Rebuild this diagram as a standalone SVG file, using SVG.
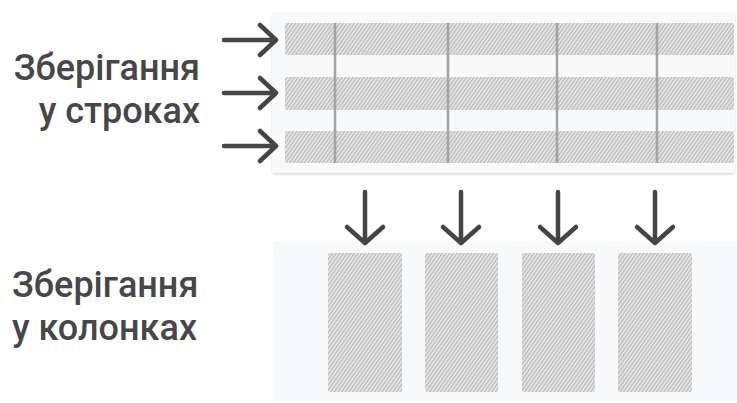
<svg xmlns="http://www.w3.org/2000/svg" width="737" height="403" viewBox="0 0 737 403">
<defs>
<pattern id="hatch" width="3" height="3" patternUnits="userSpaceOnUse" patternTransform="rotate(35)">
<rect width="3" height="3" fill="#e6e6e6"/>
<line x1="0.7" y1="0" x2="0.7" y2="3" stroke="#a6a6a6" stroke-width="0.9"/>
</pattern>
<filter id="sh" x="-5%" y="-5%" width="110%" height="115%">
<feDropShadow dx="0" dy="1.5" stdDeviation="1.2" flood-color="#000" flood-opacity="0.15"/>
</filter>
</defs>
<style>
.lbl{font-family:Roboto,"Liberation Sans",sans-serif;font-size:36px;font-weight:500;fill:#474747;}
.panel{fill:#f8f9fa;}
.cell{fill:url(#hatch);}
.sep{stroke:#a3a3a3;stroke-width:2.5;}
.arr{fill:none;stroke:#454545;stroke-width:4.5;stroke-linecap:round;stroke-linejoin:round;}
</style>
<rect width="737" height="403" fill="#ffffff"/>

<g id="label-rows">
<text class="lbl" x="200" y="80" text-anchor="end">Зберігання</text>
<text class="lbl" x="200" y="123" text-anchor="end">у строках</text>
</g>
<g id="label-cols">
<text class="lbl" x="12" y="297">Зберігання</text>
<text class="lbl" x="12" y="340">у колонках</text>
</g>

<g id="row-store">
<rect class="panel" x="272" y="12" width="463" height="161" rx="3" filter="url(#sh)"/>
<rect class="cell" x="285" y="23" width="449" height="32" rx="2"/>
<rect class="cell" x="285" y="77" width="449" height="33" rx="2"/>
<rect class="cell" x="285" y="131" width="449" height="32" rx="2"/>
<line class="sep" x1="335" y1="23" x2="335" y2="163"/>
<line class="sep" x1="448" y1="23" x2="448" y2="163"/>
<line class="sep" x1="557" y1="23" x2="557" y2="163"/>
<line class="sep" x1="657" y1="23" x2="657" y2="163"/>
</g>

<g id="col-store">
<rect class="panel" x="273" y="241" width="464" height="160"/>
<rect class="cell" x="328" y="253" width="74" height="139" rx="2"/>
<rect class="cell" x="425" y="253" width="73" height="139" rx="2"/>
<rect class="cell" x="522" y="253" width="73" height="139" rx="2"/>
<rect class="cell" x="618" y="253" width="74" height="139" rx="2"/>
</g>

<g id="connectors">
<path class="arr" d="M224 40H276M260 25L276 40L260 55"/>
<path class="arr" d="M224 93H276M260 78L276 93L260 108"/>
<path class="arr" d="M224 146H276M260 131L276 146L260 161"/>
<path class="arr" d="M365 192V243M347 227L365 243L383 227"/>
<path class="arr" d="M461 192V243M443 227L461 243L479 227"/>
<path class="arr" d="M558 192V243M540 227L558 243L576 227"/>
<path class="arr" d="M655 192V243M637 227L655 243L673 227"/>
</g>
</svg>
